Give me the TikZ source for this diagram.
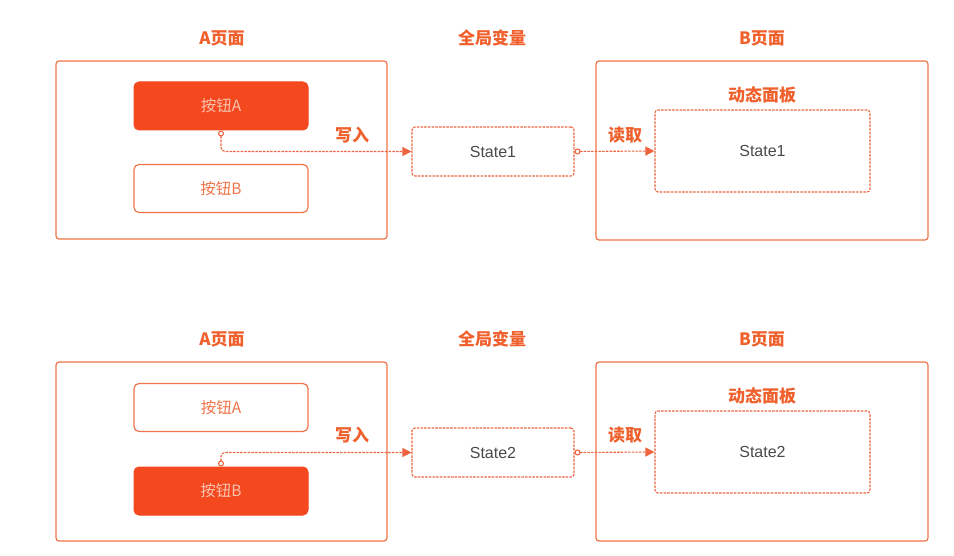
\documentclass[tikz,border=0pt]{standalone}
\usepackage{fontspec}
\setmainfont{Liberation Sans}
\newfontfamily\cjk{Noto Sans CJK SC}
\usetikzlibrary{arrows.meta}
\definecolor{edge}{HTML}{F07448}
\definecolor{dedge}{HTML}{EE6440}
\definecolor{btnfill}{HTML}{F4481F}
\definecolor{ttl}{HTML}{F0602C}
\definecolor{btntxt}{HTML}{FAC3AE}
\definecolor{statetxt}{HTML}{4A4A4A}
\tikzset{
  pagebox/.style={draw=edge, line width=1.2pt, rounded corners=3pt, inner sep=0pt},
  btnfilled/.style={fill=btnfill, draw=btnfill, line width=1pt, rounded corners=5pt, minimum width=174pt, minimum height=48pt, text=btntxt, font=\cjk\fontsize{15.5}{17}\selectfont},
  btnplain/.style={draw=edge, fill=white, line width=1.2pt, rounded corners=5pt, minimum width=174pt, minimum height=48pt, text=edge, font=\cjk\fontsize{15.5}{17}\selectfont},
  statebox/.style={draw=dedge, line width=1.1pt, dash pattern=on 2.5pt off 1.2pt, rounded corners=3pt, minimum width=162pt, minimum height=49pt, text=statetxt, font=\fontsize{16}{18}\selectfont},
  panelbox/.style={draw=dedge, line width=1.1pt, dash pattern=on 2.5pt off 1.2pt, rounded corners=3pt, minimum width=215pt, minimum height=82pt, text=statetxt, font=\fontsize{16}{18}\selectfont},
  ttlbl/.style={text=ttl, font=\cjk\bfseries\fontsize{17}{19}\selectfont, inner sep=0pt},
  conn/.style={draw=dedge, line width=1.1pt, dash pattern=on 2.5pt off 1.2pt,
    {Circle[open, fill=white, length=6pt, width=6pt, line width=1.1pt]}-{Triangle[length=9pt, width=9pt]}},
}
\begin{document}
\begin{tikzpicture}[x=1pt, y=-1pt]
\useasboundingbox[fill=white] (0,0) rectangle (954,556);

% ---------- top row ----------
\node[ttlbl] (tA1) at (222,38) {A页面};
\node[ttlbl] (tG1) at (492,38) {全局变量};
\node[ttlbl] (tB1) at (762,38) {B页面};

\node[pagebox, minimum width=331pt, minimum height=178pt] (pA1) at (221.5,150) {};
\node[btnfilled] (bA1) at (221,106) {按钮A};
\node[btnplain] (bB1) at (221,188.5) {按钮B};
\node[statebox] (s1) at (493,151.5) {State1};
\node[pagebox, minimum width=332pt, minimum height=179pt] (pB1) at (762,150.5) {};
\node[ttlbl] (dp1) at (762,95) {动态面板};
\node[panelbox] (p1) at (762.5,151) {State1};
\node[ttlbl] (w1) at (352,135) {写入};
\node[ttlbl] (r1) at (625,135) {读取};

\draw[conn, rounded corners=4pt] (bA1.south) |- (s1.west);
\draw[conn] (s1.east) -- (p1.west);

% ---------- bottom row ----------
\node[ttlbl] (tA2) at (222,339) {A页面};
\node[ttlbl] (tG2) at (492,339) {全局变量};
\node[ttlbl] (tB2) at (762,339) {B页面};

\node[pagebox, minimum width=331pt, minimum height=179pt] (pA2) at (221.5,451.5) {};
\node[btnplain] (bA2) at (221,407.5) {按钮A};
\node[btnfilled] (bB2) at (221,491) {按钮B};
\node[statebox] (s2) at (493,452.5) {State2};
\node[pagebox, minimum width=332pt, minimum height=179pt] (pB2) at (762,451.5) {};
\node[ttlbl] (dp2) at (762,396) {动态面板};
\node[panelbox] (p2) at (762.5,452) {State2};
\node[ttlbl] (w2) at (352,435) {写入};
\node[ttlbl] (r2) at (625,435) {读取};

\draw[conn, rounded corners=4pt] (bB2.north) |- (s2.west);
\draw[conn] (s2.east) -- (p2.west);
\end{tikzpicture}
\end{document}
